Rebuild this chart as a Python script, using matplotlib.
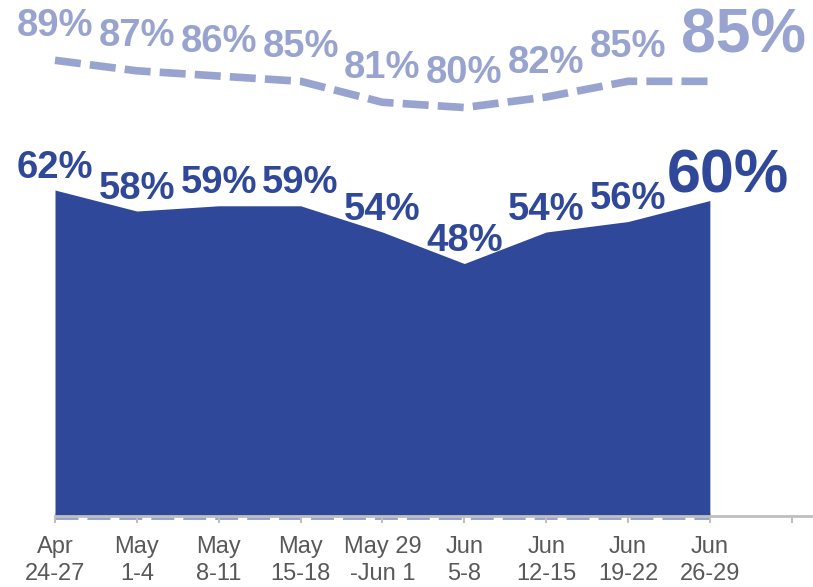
import matplotlib.pyplot as plt
import matplotlib.transforms as mtransforms

plt.rcParams['font.family'] = ['Liberation Sans', 'DejaVu Sans']

# data
periods = ['Apr\n24-27', 'May\n1-4', 'May\n8-11', 'May\n15-18', 'May 29\n-Jun 1',
           'Jun\n5-8', 'Jun\n12-15', 'Jun\n19-22', 'Jun\n26-29']
solid_vals = [62, 58, 59, 59, 54, 48, 54, 56, 60]
dashed_vals = [89, 87, 86, 85, 81, 80, 82, 85, 85]

dark = '#2F4899'
light = '#98A4CF'

fig = plt.figure(figsize=(8.13, 5.87), dpi=100)
ax = fig.add_axes([55 / 813, 71.5 / 587, 1 - 55 / 813, 515.5 / 587])

x = list(range(len(periods)))

# area series
ax.fill_between(x, 0, solid_vals, color=dark, lw=0, zorder=2)

# dashed series (drawn slightly lower, as in the original)
shift = mtransforms.ScaledTranslation(0, -12 / 100, fig.dpi_scale_trans)
ax.plot(x, dashed_vals, color=light, lw=5.5, dashes=(3.4, 1.2),
        solid_capstyle='butt', dash_capstyle='butt',
        transform=ax.transData + shift, zorder=3, clip_on=False)
ax.plot(x, [0] * len(x), color=light, lw=5, dashes=(3.3, 1.3),
        dash_capstyle='butt', zorder=1, clip_on=False)

# labels (the last, big one sits a bit to the right)
last = len(x) - 1
for i, v in enumerate(solid_vals):
    big = i == last
    ax.annotate(f'{v}%', (i, v), xytext=(13 if big else 0, 6 if big else 9),
                textcoords='offset points', ha='center', va='baseline',
                color=dark, fontweight='bold', fontsize=44 if big else 27.5,
                zorder=5)
for i, v in enumerate(dashed_vals):
    big = i == last
    ax.annotate(f'{v}%', (i, v), xytext=(24 if big else 0, 12 if big else 9),
                textcoords='offset points', ha='center', va='baseline',
                color=light, fontweight='bold', fontsize=45 if big else 27.5,
                zorder=5)

ax.set_xlim(0, 9.26)
ax.set_ylim(0, 98.2)
ax.set_xticks(range(len(periods) + 1))
ax.set_xticklabels(periods + [''], fontsize=17, color='#595959', linespacing=1.25)
ax.tick_params(axis='x', length=5, width=1.5, color='#BFBFBF', pad=10)
ax.set_yticks([])
for s in ['top', 'right', 'left']:
    ax.spines[s].set_visible(False)
ax.spines['bottom'].set_color('#BFBFBF')
ax.spines['bottom'].set_linewidth(2)
ax.spines['bottom'].set_zorder(4)

fig.savefig('out.png', dpi=100)
